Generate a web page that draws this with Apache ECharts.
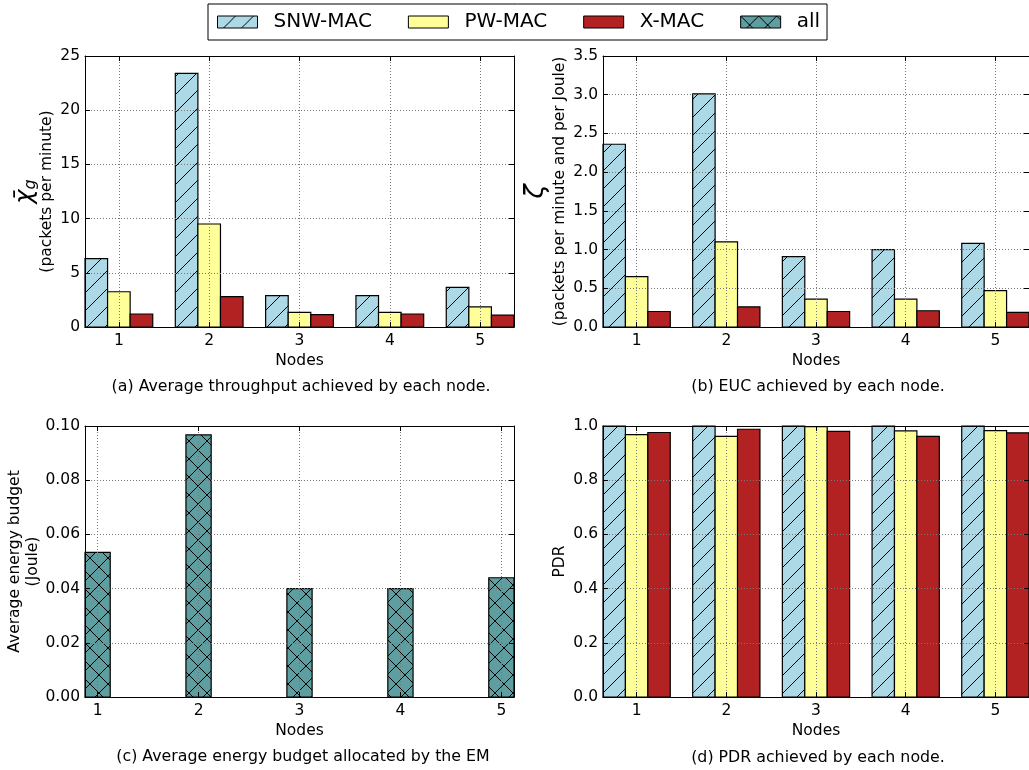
<!DOCTYPE html>
<html><head><meta charset="utf-8">
<script src="https://cdn.jsdelivr.net/npm/echarts@6/dist/echarts.min.js"></script>
<style>html,body{margin:0;padding:0;background:#fff}#c{width:1029px;height:770px}</style>
</head><body><div id="c"></div>
<script>
// ---------------- data ----------------
var nodes = [1, 2, 3, 4, 5];
var seriesNames = ['SNW-MAC', 'PW-MAC', 'X-MAC', 'all'];
var throughputSNW = [6.3, 23.4, 2.9, 2.9, 3.65];
var throughputPW  = [3.25, 9.5, 1.35, 1.35, 1.85];
var throughputX   = [1.2, 2.8, 1.15, 1.2, 1.1];
var eucSNW = [2.36, 3.01, 0.91, 1.0, 1.08];
var eucPW  = [0.65, 1.1, 0.36, 0.36, 0.47];
var eucX   = [0.2, 0.26, 0.2, 0.21, 0.19];
var budgetAll = [0.0534, 0.0967, 0.04, 0.04, 0.044];
var pdrSNW = [1.0, 1.0, 1.0, 1.0, 1.0];
var pdrPW  = [0.968, 0.962, 0.998, 0.982, 0.983];
var pdrX   = [0.976, 0.988, 0.980, 0.962, 0.975];
var captions = [
  '(a) Average throughput achieved by each node.',
  '(b) EUC achieved by each node.',
  '(c) Average energy budget allocated by the EM',
  '(d) PDR achieved by each node.'
];

// ---------------- styles ----------------
var FONT = 'DejaVu Sans';
var BAR_W = 0.25;
var OFFSETS = [-0.25, 0, 0.25];

function hatchPattern(bg, kind) {
  var s = 18, c = document.createElement('canvas');
  c.width = s; c.height = s;
  var g = c.getContext('2d');
  g.fillStyle = bg; g.fillRect(0, 0, s, s);
  g.strokeStyle = '#000'; g.lineWidth = 1;
  function seg(x0, y0, x1, y1) { g.beginPath(); g.moveTo(x0, y0); g.lineTo(x1, y1); g.stroke(); }
  if (kind === '/' || kind === 'x') { seg(-2, s + 2, s + 2, -2); seg(-2, 2, 2, -2); seg(s - 2, s + 2, s + 2, s - 2); }
  if (kind === 'x') { seg(-2, -2, s + 2, s + 2); seg(s - 2, -2, s + 2, 2); seg(-2, s - 2, 2, s + 2); }
  return { image: c, repeat: 'repeat' };
}
var FILL = {
  'SNW-MAC': hatchPattern('#ADD8E6', '/'),
  'PW-MAC': '#FFFF99',
  'X-MAC': '#B22222',
  'all': hatchPattern('#5F9EA0', 'x')
};

function renderBar(params, api) {
  var x = api.value(0), y = api.value(1);
  var tl = api.coord([x - BAR_W / 2, y]);
  var br = api.coord([x + BAR_W / 2, 0]);
  return {
    type: 'rect',
    shape: { x: tl[0], y: tl[1], width: br[0] - tl[0], height: br[1] - tl[1] },
    style: { fill: api.visual('color'), stroke: '#000', lineWidth: 1.2 }
  };
}

// ---------------- layout ----------------
var grids = [
  { left: 85, top: 56, width: 429, height: 271 },
  { left: 603, top: 56, width: 429, height: 271 },
  { left: 85, top: 426, width: 429, height: 271 },
  { left: 603, top: 426, width: 429, height: 271 }
];
var xRanges = [[0.625, 5.375], [0.625, 5.375], [0.875, 5.125], [0.625, 5.375]];
var yRanges = [[0, 25, 5], [0, 3.5, 0.5], [0, 0.1, 0.02], [0, 1.0, 0.2]];
var yDecimals = [0, 1, 2, 1];
var yNames = [
  '{chi|χ\u0304}{sub|g}\n{t|(packets per minute)}',
  '{z|ζ}\n{t|(packets per minute and per Joule)}',
  'Average energy budget\n(Joule)',
  'PDR'
];
var yNameGaps = [28, 31, 30, 34];

var dotted = { color: '#777', width: 1, type: [1, 2] };
var axisCol = '#000';
var xAxes = [], yAxes = [];
grids.forEach(function (g, i) {
  var tickCommon = { show: true, inside: true, length: 5, lineStyle: { color: axisCol }, customValues: nodes };
  xAxes.push({
    type: 'value', gridIndex: i, position: 'bottom', min: xRanges[i][0], max: xRanges[i][1], z: 5,
    axisLine: { show: true, onZero: false, lineStyle: { color: axisCol, width: 1 } },
    axisTick: tickCommon,
    axisLabel: { customValues: nodes, margin: 6, color: '#000', fontFamily: FONT, fontSize: 15.5 },
    splitLine: { show: true, lineStyle: dotted },
    name: 'Nodes', nameLocation: 'middle', nameGap: 26,
    nameTextStyle: { color: '#000', fontFamily: FONT, fontSize: 15.5 }
  });
  xAxes.push({
    type: 'value', gridIndex: i, position: 'top', min: xRanges[i][0], max: xRanges[i][1], z: 5,
    axisLine: { show: true, onZero: false, lineStyle: { color: axisCol, width: 1 } },
    axisTick: tickCommon, axisLabel: { show: false }, splitLine: { show: false }
  });
  var dec = yDecimals[i];
  yAxes.push({
    type: 'value', gridIndex: i, position: 'left', min: yRanges[i][0], max: yRanges[i][1], interval: yRanges[i][2], z: 5,
    axisLine: { show: true, onZero: false, lineStyle: { color: axisCol, width: 1 } },
    axisTick: { show: true, inside: true, length: 5, lineStyle: { color: axisCol } },
    axisLabel: { margin: 5, color: '#000', fontFamily: FONT, fontSize: 15.5,
      formatter: function (v) { return v.toFixed(dec); } },
    splitLine: { show: true, lineStyle: dotted },
    name: yNames[i], nameLocation: 'middle', nameRotate: 90, nameGap: yNameGaps[i],
    nameTextStyle: {
      color: '#000', fontFamily: FONT, fontSize: 15.5, lineHeight: 18,
      rich: {
        chi: { fontFamily: FONT, fontStyle: 'italic', fontSize: 24, lineHeight: 26, color: '#000' },
        sub: { fontFamily: FONT, fontStyle: 'italic', fontSize: 16, lineHeight: 20, color: '#000', verticalAlign: 'bottom' },
        z: { fontFamily: FONT, fontStyle: 'italic', fontSize: 26, lineHeight: 30, color: '#000' },
        t: { fontFamily: FONT, fontSize: 15.5, lineHeight: 18, color: '#000' }
      }
    }
  });
  yAxes.push({
    type: 'value', gridIndex: i, position: 'right', min: yRanges[i][0], max: yRanges[i][1], interval: yRanges[i][2], z: 5,
    axisLine: { show: true, onZero: false, lineStyle: { color: axisCol, width: 1 } },
    axisTick: { show: true, inside: true, length: 5, lineStyle: { color: axisCol } },
    axisLabel: { show: false }, splitLine: { show: false }
  });
});

function barSeries(name, gridIdx, offset, values) {
  return {
    type: 'custom', name: name,
    xAxisIndex: gridIdx * 2, yAxisIndex: gridIdx * 2,
    itemStyle: { color: FILL[name], borderColor: '#000', borderWidth: 1 },
    encode: { x: 0, y: 1 },
    renderItem: renderBar, z: 2,
    data: nodes.map(function (n, k) { return [n + offset, values[k]]; })
  };
}

var series = [
  barSeries('SNW-MAC', 0, OFFSETS[0], throughputSNW),
  barSeries('PW-MAC', 0, OFFSETS[1], throughputPW),
  barSeries('X-MAC', 0, OFFSETS[2], throughputX),
  barSeries('SNW-MAC', 1, OFFSETS[0], eucSNW),
  barSeries('PW-MAC', 1, OFFSETS[1], eucPW),
  barSeries('X-MAC', 1, OFFSETS[2], eucX),
  barSeries('all', 2, 0, budgetAll),
  barSeries('SNW-MAC', 3, OFFSETS[0], pdrSNW),
  barSeries('PW-MAC', 3, OFFSETS[1], pdrPW),
  barSeries('X-MAC', 3, OFFSETS[2], pdrX)
];

var captionPos = [[301, 387], [818, 387], [303, 757], [818, 758]];
var titles = captions.map(function (t, i) {
  return { text: t, left: captionPos[i][0], top: captionPos[i][1], padding: 0,
    textAlign: 'center', textVerticalAlign: 'middle',
    textStyle: { fontFamily: FONT, fontSize: 15.8, fontWeight: 'normal', color: '#000' } };
});

var chart = echarts.init(document.getElementById('c'), null, { renderer: 'canvas' });
chart.setOption({
  animation: false,
  backgroundColor: '#fff',
  title: titles,
  legend: {
    data: seriesNames.map(function (n) { return { name: n, icon: 'rect' }; }),
    selectedMode: false,
    left: 208, top: 4, orient: 'horizontal',
    padding: [8, 7, 8, 9], itemGap: 36, itemWidth: 40, itemHeight: 12,
    borderColor: '#000', borderWidth: 1,
    itemStyle: { borderColor: '#000', borderWidth: 1 },
    textStyle: { fontFamily: FONT, fontSize: 20, color: '#000', padding: [0, 0, 0, 11] }
  },
  grid: grids.map(function (g) { return Object.assign({ containLabel: false, show: false }, g); }),
  xAxis: xAxes,
  yAxis: yAxes,
  series: series
});
</script></body></html>
